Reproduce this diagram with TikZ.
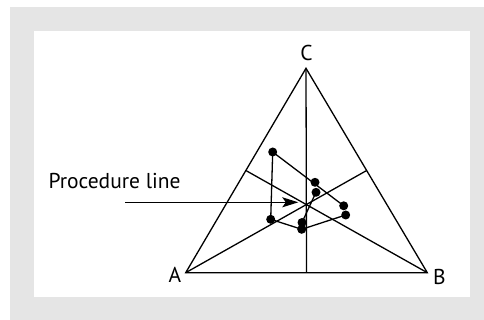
\documentclass[tikz,border=0pt]{standalone}
\usepackage{fontspec}
\setmainfont{PT Sans}
\usetikzlibrary{arrows.meta,calc}
\definecolor{bggray}{HTML}{E5E5E5}
\begin{document}
\begin{tikzpicture}[x=1pt,y=-1pt,
  edge/.style={line width=1.3pt,line join=miter},
  dot/.style={circle,fill=black,inner sep=0pt,minimum size=9pt},
  lab/.style={font=\fontsize{21.5}{25}\selectfont,inner sep=0pt}]
\useasboundingbox (0,0) rectangle (484,320);
\fill[bggray] (10,7) rectangle (484,320);
\fill[white] (34,31) rectangle (470,297);
% vertices
\coordinate (A) at (185.7,272.7);
\coordinate (B) at (427.3,272.7);
\coordinate (C) at (306,68.3);
\coordinate (mAB) at ($(A)!0.5!(B)$);
\coordinate (mBC) at ($(B)!0.5!(C)$);
\coordinate (mAC) at ($(A)!0.5!(C)$);
\draw[edge] (A) -- (B) -- (C) -- cycle;
\draw[edge] (C) -- (mAB);
\draw[edge] (A) -- (mBC);
\draw[edge] (B) -- (mAC);
% labels
\node[lab] (lC) at (306.5,53.3) {C};
\node[lab] (lA) at (175,274.7) {A};
\node[lab] (lB) at (439.5,277) {B};
% points
\node[dot] (p1) at (272.7,152) {};
\node[dot] (p2) at (315,182.3) {};
\node[dot] (p3) at (316,192.3) {};
\node[dot] (p4) at (343.7,205.8) {};
\node[dot] (p5) at (345.7,215) {};
\node[dot] (p6) at (302,222.5) {};
\node[dot] (p7) at (301.7,229.3) {};
\node[dot] (p8) at (270.7,219.3) {};
\draw[edge] (p1.center) -- (p4.center);
\draw[edge] (p5.center) -- (p7.center) -- (p8.center) -- (p1.center);
\draw[edge] (p6.center) -- (p3.center);
% procedure line label and arrow
\node[lab,anchor=base west] (proc) at (48.3,189) {Procedure line};
\coordinate (arrS) at (125,202.3);
\coordinate (arrE) at (298.3,202.3);
\draw[edge,-{Stealth[length=16pt,width=10pt,inset=3.5pt]}] (arrS) -- (arrE);
\end{tikzpicture}
\end{document}
